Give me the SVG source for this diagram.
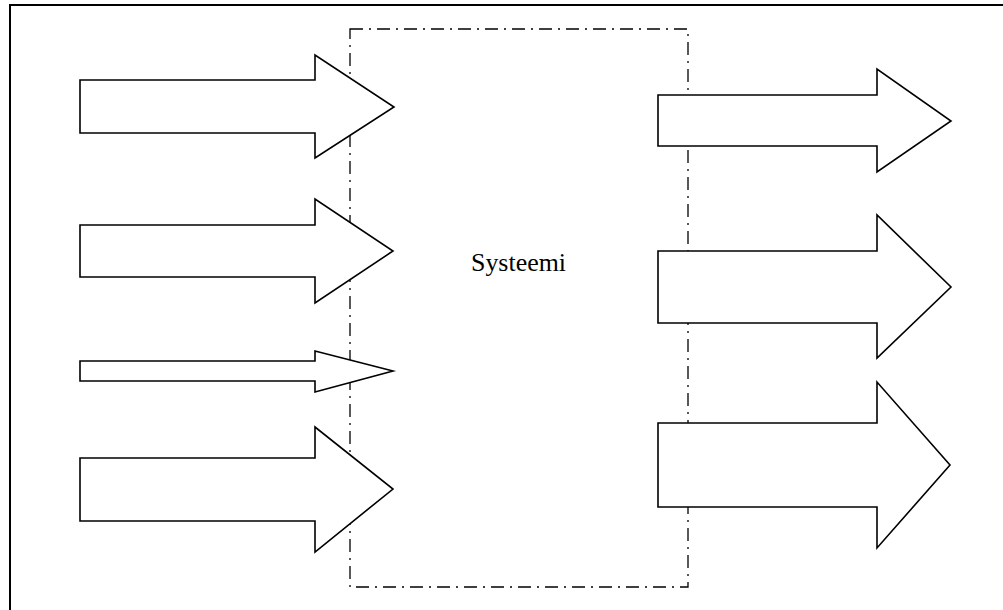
<svg xmlns="http://www.w3.org/2000/svg" width="1003" height="610" viewBox="0 0 1003 610">
<style>
.arrow{fill:#fff;stroke:#000;stroke-width:1.6;stroke-linejoin:miter}
.sys{fill:none;stroke:#000;stroke-width:1.3;stroke-dasharray:13 6 2 6}
.frame{fill:none;stroke:#000;stroke-width:2}
.lbl{font-family:"Liberation Serif","Times New Roman",serif;font-size:25px;fill:#000}
</style>
<rect width="1003" height="610" fill="#fff"/>
<rect class="frame" x="10" y="5" width="1000" height="620"/>
<g id="system">
<rect class="sys" x="350" y="29" width="338" height="558"/>
<text class="lbl" x="471" y="271" textLength="95" lengthAdjust="spacingAndGlyphs">Systeemi</text>
</g>
<g id="connectors">
<g id="in1"><polygon class="arrow" points="80,80 315,80 315,55 394,107 315,158 315,133 80,133"/></g>
<g id="in2"><polygon class="arrow" points="80,225 315,225 315,199 393,251 315,303 315,277 80,277"/></g>
<g id="in3"><polygon class="arrow" points="80,361 315,361 315,351 393,371 315,392 315,381 80,381"/></g>
<g id="in4"><polygon class="arrow" points="80,458 315,458 315,427 393,489 315,552 315,521 80,521"/></g>
<g id="out1"><polygon class="arrow" points="658,95 877,95 877,69 951,121 877,172 877,146 658,146"/></g>
<g id="out2"><polygon class="arrow" points="658,251 877,251 877,215 951,287 877,358 877,323 658,323"/></g>
<g id="out3"><polygon class="arrow" points="658,423 877,423 877,382 950,465 877,548 877,507 658,507"/></g>
</g>
</svg>
